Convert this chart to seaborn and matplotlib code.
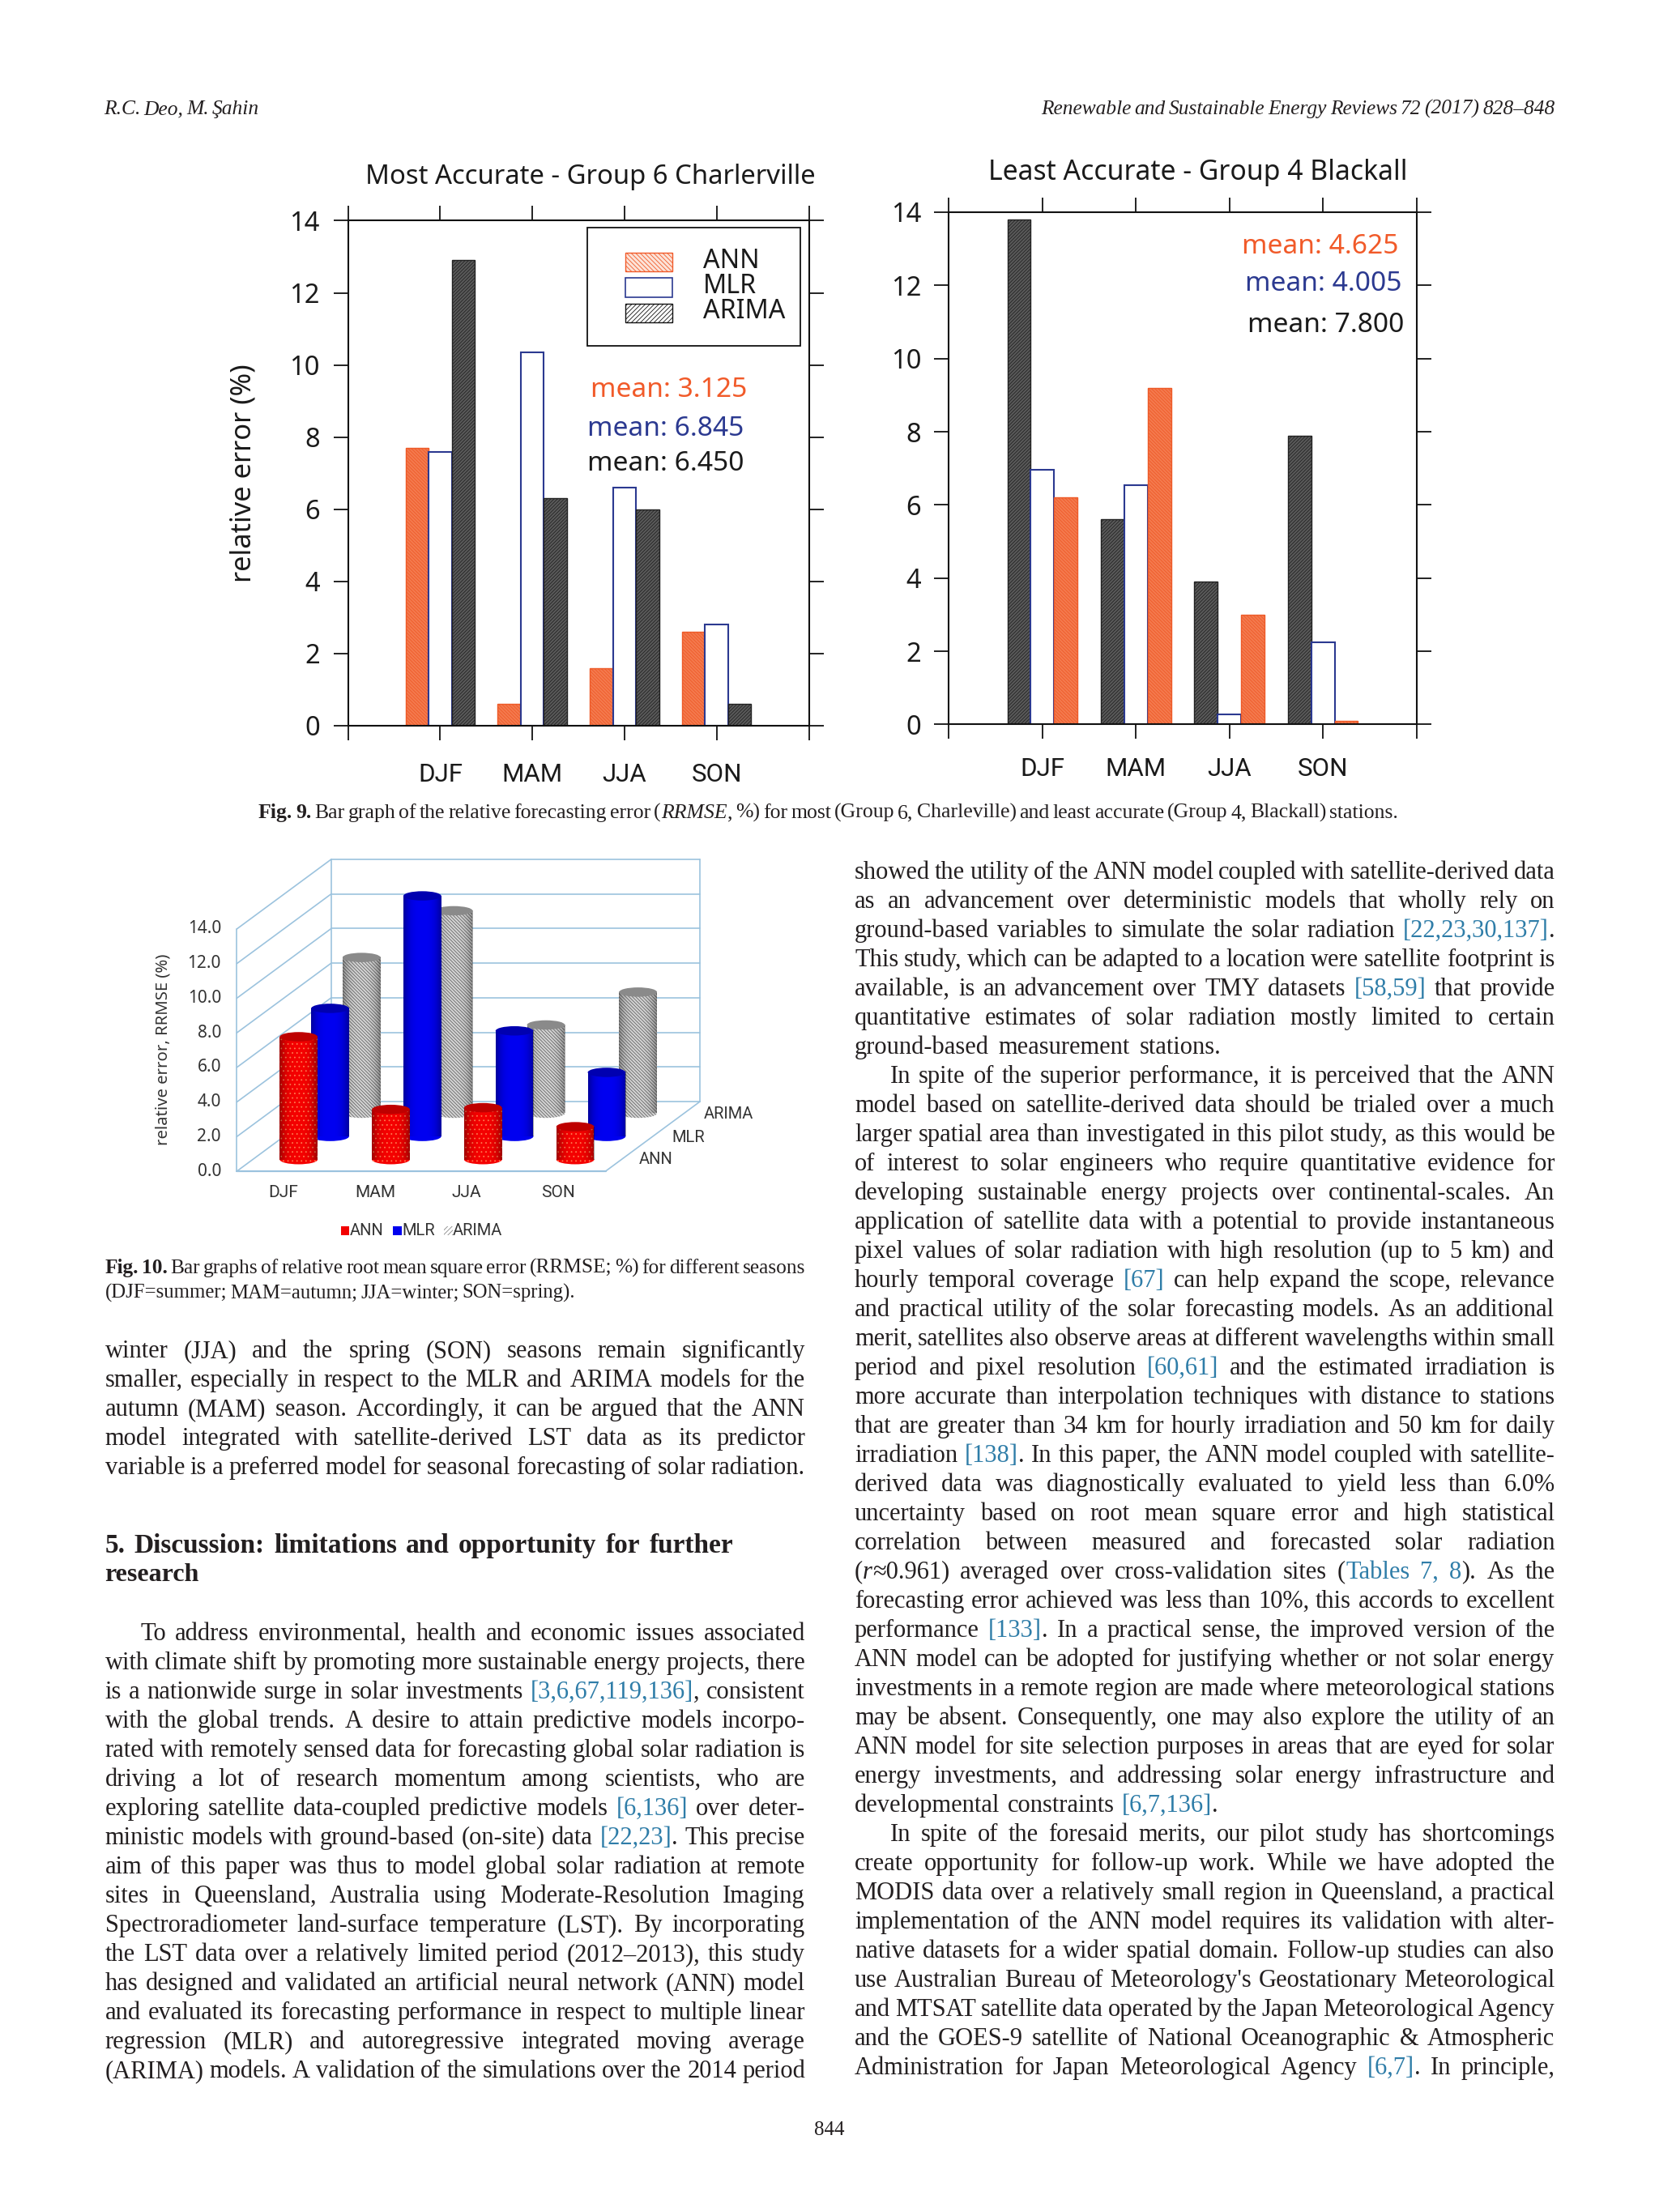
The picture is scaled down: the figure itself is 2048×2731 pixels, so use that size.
import re
import numpy as np
import matplotlib
matplotlib.use("Agg")
import matplotlib.pyplot as plt
from matplotlib.patches import Ellipse, Rectangle
from matplotlib.font_manager import FontProperties
import pandas as pd
import seaborn as sns

# ---------- data ----------
seasons = ["DJF", "MAM", "JJA", "SON"]
left_ann = [7.7, 0.6, 1.6, 2.6]
left_mlr = [7.6, 10.35, 6.6, 2.8]
left_arima = [12.9, 6.3, 6.0, 0.6]
right_arima = [13.8, 5.6, 3.9, 7.9]
right_mlr = [6.95, 6.55, 0.28, 2.25]
right_ann = [6.2, 9.2, 3.0, 0.1]
d3_ann = [7.1, 2.9, 3.0, 1.9]
d3_mlr = [7.4, 13.9, 6.1, 3.7]
d3_arima = [9.0, 11.7, 5.1, 7.0]
y_ticks = [0, 2, 4, 6, 8, 10, 12, 14]
left_means = ["mean: 3.125", "mean: 6.845", "mean: 6.450"]
right_means = ["mean: 4.625", "mean: 4.005", "mean: 7.800"]
models = ["ANN", "MLR", "ARIMA"]

left_col_a = [
    "winter (JJA) and the spring (SON) seasons remain significantly",
    "smaller, especially in respect to the MLR and ARIMA models for the",
    "autumn (MAM) season. Accordingly, it can be argued that the ANN",
    "model integrated with satellite-derived LST data as its predictor",
    "variable is a preferred model for seasonal forecasting of solar radiation.",
]
left_col_b = [
    "To address environmental, health and economic issues associated",
    "with climate shift by promoting more sustainable energy projects, there",
    "is a nationwide surge in solar investments {[3,6,67,119,136]}, consistent",
    "with the global trends. A desire to attain predictive models incorpo-",
    "rated with remotely sensed data for forecasting global solar radiation is",
    "driving a lot of research momentum among scientists, who are",
    "exploring satellite data-coupled predictive models {[6,136]} over deter-",
    "ministic models with ground-based (on-site) data {[22,23]}. This precise",
    "aim of this paper was thus to model global solar radiation at remote",
    "sites in Queensland, Australia using Moderate-Resolution Imaging",
    "Spectroradiometer land-surface temperature (LST). By incorporating",
    "the LST data over a relatively limited period (2012–2013), this study",
    "has designed and validated an artificial neural network (ANN) model",
    "and evaluated its forecasting performance in respect to multiple linear",
    "regression (MLR) and autoregressive integrated moving average",
    "(ARIMA) models. A validation of the simulations over the 2014 period",
]
right_col = [
    "showed the utility of the ANN model coupled with satellite-derived data",
    "as an advancement over deterministic models that wholly rely on",
    "ground-based variables to simulate the solar radiation {[22,23,30,137]}.",
    "This study, which can be adapted to a location were satellite footprint is",
    "available, is an advancement over TMY datasets {[58,59]} that provide",
    "quantitative estimates of solar radiation mostly limited to certain",
    "ground-based measurement stations.",
    "In spite of the superior performance, it is perceived that the ANN",
    "model based on satellite-derived data should be trialed over a much",
    "larger spatial area than investigated in this pilot study, as this would be",
    "of interest to solar engineers who require quantitative evidence for",
    "developing sustainable energy projects over continental-scales. An",
    "application of satellite data with a potential to provide instantaneous",
    "pixel values of solar radiation with high resolution (up to 5 km) and",
    "hourly temporal coverage {[67]} can help expand the scope, relevance",
    "and practical utility of the solar forecasting models. As an additional",
    "merit, satellites also observe areas at different wavelengths within small",
    "period and pixel resolution {[60,61]} and the estimated irradiation is",
    "more accurate than interpolation techniques with distance to stations",
    "that are greater than 34 km for hourly irradiation and 50 km for daily",
    "irradiation {[138]}. In this paper, the ANN model coupled with satellite-",
    "derived data was diagnostically evaluated to yield less than 6.0%",
    "uncertainty based on root mean square error and high statistical",
    "correlation between measured and forecasted solar radiation",
    "(*r*≈0.961) averaged over cross-validation sites ({Tables} {7,} {8}). As the",
    "forecasting error achieved was less than 10%, this accords to excellent",
    "performance {[133]}. In a practical sense, the improved version of the",
    "ANN model can be adopted for justifying whether or not solar energy",
    "investments in a remote region are made where meteorological stations",
    "may be absent. Consequently, one may also explore the utility of an",
    "ANN model for site selection purposes in areas that are eyed for solar",
    "energy investments, and addressing solar energy infrastructure and",
    "developmental constraints {[6,7,136]}.",
    "In spite of the foresaid merits, our pilot study has shortcomings",
    "create opportunity for follow-up work. While we have adopted the",
    "MODIS data over a relatively small region in Queensland, a practical",
    "implementation of the ANN model requires its validation with alter-",
    "native datasets for a wider spatial domain. Follow-up studies can also",
    "use Australian Bureau of Meteorology's Geostationary Meteorological",
    "and MTSAT satellite data operated by the Japan Meteorological Agency",
    "and the GOES-9 satellite of National Oceanographic & Atmospheric",
    "Administration for Japan Meteorological Agency {[6,7]}. In principle,",
]
caption9 = "^Fig.^ ^9.^ Bar graph of the relative forecasting error (*RRMSE*, %) for most (Group 6, Charleville) and least accurate (Group 4, Blackall) stations."
caption10 = [
    "^Fig.^ ^10.^ Bar graphs of relative root mean square error (RRMSE; %) for different seasons",
    "(DJF=summer; MAM=autumn; JJA=winter; SON=spring).",
]
heading = ["^5.^ ^Discussion:^ ^limitations^ ^and^ ^opportunity^ ^for^ ^further^", "^research^"]

# ---------- page ----------
W, H = 2048, 2731
sns.set_theme(style="ticks")
plt.rcParams["font.family"] = ["Noto Sans", "DejaVu Sans"]
plt.rcParams["hatch.linewidth"] = 0.6
INK = "#231F20"
LINK = "#2F7DA8"
ORANGE = "#F15A29"
BLUE = "#2B3990"

fig = plt.figure(figsize=(W / 100, H / 100), dpi=100, facecolor="white")
page = fig.add_axes([0, 0, 1, 1], zorder=0)
page.set_xlim(0, W)
page.set_ylim(H, 0)
page.axis("off")
renderer = fig.canvas.get_renderer()


def rect(x0, y0, x1, y1):
    return [x0 / W, 1 - y1 / H, (x1 - x0) / W, (y1 - y0) / H]


def segments(word):
    out = []
    for m in re.finditer(r"\{([^}]*)\}|\*([^*]*)\*|\^([^^]*)\^|([^{*^]+)", word):
        if m.group(1) is not None:
            out.append((m.group(1), "link"))
        elif m.group(2) is not None:
            out.append((m.group(2), "italic"))
        elif m.group(3) is not None:
            out.append((m.group(3), "bold"))
        else:
            out.append((m.group(4), "plain"))
    return out


def fp(kind, size, base):
    return FontProperties(
        family="Liberation Serif",
        size=size,
        style="italic" if kind == "italic" or base == "italic" else "normal",
        weight="bold" if kind == "bold" else "normal",
    )


def width(s, kind, size, base):
    return renderer.get_text_width_height_descent(s, fp(kind, size, base), False)[0]


def set_line(line, x0, x1, y, size=22.0, base="plain", color=INK):
    words = [segments(w) for w in line.split(" ")]
    while True:
        widths = [sum(width(s, k, size, base) for s, k in w) for w in words]
        gap = (x1 - x0 - sum(widths)) / max(len(words) - 1, 1)
        if gap >= size * 0.2 or size < 10:
            break
        size -= 0.1
    x = x0
    for w, ww in zip(words, widths):
        px = x
        for s, k in w:
            page.text(px, y, s, fontproperties=fp(k, size, base), va="baseline", ha="left",
                      color=LINK if k == "link" else color)
            px += width(s, k, size, base)
        x += ww + gap


LX0, LX1, RX0, RX1 = 129.5, 994.0, 1055.0, 1919.5
INDENT = 43.5
LEAD = 36.0

set_line("R.C. Deo, M. Şahin", 128, 320, 141, size=21, base="italic")
set_line("Renewable and Sustainable Energy Reviews 72 (2017) 828–848", 1285, 1919.5, 141, size=21.5, base="italic")
set_line(caption9, 319, 1726, 1010, size=18.5)
set_line(caption10[0], LX0, LX1, 1572, size=18.5)
set_line(caption10[1], LX0, 710, 1603, size=18.5)
for i, t in enumerate(left_col_a):
    set_line(t, LX0, LX1, 1676 + i * LEAD)
set_line(heading[0], LX0, 905, 1916.5, size=24)
set_line(heading[1], LX0, 251, 1951.5, size=24)
for i, t in enumerate(left_col_b):
    set_line(t, LX0 + (INDENT if i == 0 else 0), LX1, 2024.5 + i * 36.03)
short_ends = {6: 1507, 32: 1504}
indented = {7, 33}
for i, t in enumerate(right_col):
    set_line(t, RX0 + (INDENT if i in indented else 0), short_ends.get(i, RX1), 1084.6 + i * LEAD)
page.text(1005, 2636, "844", fontproperties=FontProperties(family="Liberation Serif", size=18), color=INK,
          va="baseline", ha="left")

# ---------- Fig. 9 ----------
STY = {
    "ANN": dict(facecolor="#F47A4E", edgecolor="#EE5A28", hatch="\\\\\\\\\\\\\\\\", linewidth=1.0),
    "MLR": dict(facecolor="white", edgecolor=BLUE, hatch=None, linewidth=1.5),
    "ARIMA": dict(facecolor="#5A5A5A", edgecolor="#222222", hatch="////////", linewidth=1.0),
}


def bar_panel(box, ann, mlr, arima, order, title, title_x, title_pad, title_size, tick_pad_x, tick_pad_y):
    ax = fig.add_axes(rect(*box), zorder=2)
    frame = pd.DataFrame({
        "season": seasons * 3,
        "model": ["ANN"] * 4 + ["MLR"] * 4 + ["ARIMA"] * 4,
        "value": list(ann) + list(mlr) + list(arima),
    })
    sns.barplot(data=frame, x="season", y="value", hue="model", hue_order=order, order=seasons,
                width=0.75, gap=0, dodge=True, legend=False, ax=ax, saturation=1,
                palette={"ANN": "#F47A4E", "MLR": "white", "ARIMA": "#555555"})
    for name, cont in zip(order, ax.containers):
        for p in cont:
            p.set(**STY[name])
    ax.set_xlim(-1, 4)
    ax.set_ylim(0, 14)
    ax.set_xticks(range(-1, 5))
    ax.set_xticklabels([""] + seasons + [""], fontfamily="Roboto")
    ax.set_yticks(y_ticks)
    ax.set_xlabel("")
    ax.set_ylabel("")
    ax.tick_params(axis="x", direction="out", top=True, bottom=True, length=13, width=1.3,
                   labelsize=22.5, pad=tick_pad_x, color="#111111", labelcolor="#1a1a1a")
    ax.tick_params(axis="y", direction="out", left=True, right=True, length=13, width=1.3,
                   labelsize=23.5, pad=tick_pad_y, color="#111111", labelcolor="#1a1a1a")
    for s in ax.spines.values():
        s.set_visible(True)
        s.set_linewidth(1.5)
        s.set_color("#111111")
    ax.set_title(title, x=title_x, y=1, pad=title_pad, fontsize=title_size, color="#1a1a1a", va="baseline", ha="center")
    return ax


lbox = (429.6, 272.5, 998.5, 896.0)
rbox = (1171.4, 262.0, 1748.5, 894.4)
axL = bar_panel(lbox, left_ann, left_mlr, left_arima, models, "Most Accurate - Group 6 Charlerville",
                (729 - 429.6) / 568.9, 32.4, 23.7, 20, 12)
axR = bar_panel(rbox, right_ann, right_mlr, right_arima, models[::-1], "Least Accurate - Group 4 Blackall",
                (1479 - 1171.4) / 577.1, 29, 24.3, 16.5, 11.5)
axL.set_ylabel("relative error (%)", fontsize=24.8, labelpad=29, color="#1a1a1a")

mean_colors = [ORANGE, BLUE, "#1a1a1a"]
over = fig.add_axes([0, 0, 1, 1], zorder=3)
over.set_xlim(0, W)
over.set_ylim(H, 0)
over.axis("off")
for txt, c, x, y in zip(left_means + right_means, mean_colors * 2,
                        [826, 822, 822, 1630, 1634, 1637],
                        [490, 537.7, 580.6, 313.3, 359, 409.5]):
    over.text(x, y, txt, color=c, fontsize=24.2, ha="center", va="baseline")
over.add_patch(Rectangle((725, 281.4), 263, 145.6, fc="white", ec="#111111", lw=1.3))
leg_sty = [
    dict(fc="#FCE3D8", ec=ORANGE, hatch="\\\\\\\\\\\\", lw=1.0),
    dict(fc="white", ec=BLUE, lw=1.2),
    dict(fc="white", ec="#111111", hatch="//////", lw=1.0),
]
for name, sty, y0, yc in zip(models, leg_sty, [311.7, 343, 374.5], [321.7, 352.5, 383.4]):
    over.add_patch(Rectangle((772.4, y0), 57.6, 23.5, **sty))
    over.text(868, yc + 1, name, fontsize=23.2, color="#1a1a1a", ha="left", va="center")

# ---------- Fig. 10 (pseudo-3D from stacked seaborn axes) ----------
FX0, FX1, FY0 = 292.4, 747.6, 1446.0
DX, DY = 116.4, -85.9
UNIT = (1443.6 - 1144.5) / 14
WALL = "#9CC3DE"
for v in y_ticks:
    yf = FY0 - v * UNIT
    page.plot([FX0, FX0 + DX], [yf, yf + DY], color=WALL, lw=1.2, zorder=1)
    page.plot([FX0 + DX, FX1 + DX], [yf + DY, yf + DY], color=WALL, lw=1.2, zorder=1)
    page.text(273, yf, f"{v:.1f}", fontsize=15, ha="right", va="center", color="#333333")
top = FY0 - 14 * UNIT
page.plot([FX0, FX0], [FY0, top], color=WALL, lw=1.2, zorder=1)
page.plot([FX0 + DX, FX0 + DX], [FY0 + DY, top + DY], color=WALL, lw=1.2, zorder=1)
page.plot([FX1 + DX, FX1 + DX], [FY0 + DY, top + DY], color=WALL, lw=1.2, zorder=1)
page.plot([FX0, FX1], [FY0, FY0], color=WALL, lw=1.6, zorder=1)
page.plot([FX1, FX1 + DX], [FY0, FY0 + DY], color=WALL, lw=1.2, zorder=1)

cyl = [
    ("ARIMA", d3_arima, 5 / 6, "#D4D4D4", "#666666", "\\\\\\\\\\\\\\\\", "#8A8A8A"),
    ("MLR", d3_mlr, 1 / 2, "#0000F0", "#0000F0", None, "#0000B0"),
    ("ANN", d3_ann, 1 / 6, "#F40000", "#FF7A50", "...", "#BE0000"),
]
shade = np.abs(np.linspace(-1, 1, 64)) ** 3
for z, (name, vals, frac, face, hatch_col, hatch, top_col) in enumerate(cyl):
    ox, oy = DX * frac, DY * frac
    ax = fig.add_axes(rect(FX0 + ox, FY0 + oy - 14 * UNIT, FX1 + ox, FY0 + oy), zorder=4 + z)
    frame = pd.DataFrame({"season": seasons, "value": vals})
    sns.barplot(data=frame, x="season", y="value", order=seasons, color=face, saturation=1,
                width=0.41, ax=ax, legend=False)
    eh = 0.54
    for i, p in enumerate(list(ax.patches[:4])):
        p.set_linewidth(0)
        if hatch:
            p.set_edgecolor(hatch_col)
            p.set_hatch(hatch)
        ax.add_patch(Ellipse((i, 0), 0.41, eh, fc=face, ec=hatch_col if hatch else "none", hatch=hatch, lw=0,
                             clip_on=False, zorder=1))
        rgba = np.zeros((1, 64, 4))
        rgba[..., 3] = shade * 0.35
        ax.imshow(rgba, extent=(i - 0.205, i + 0.205, 0, vals[i]), aspect="auto", zorder=2.5)
        ax.add_patch(Ellipse((i, vals[i]), 0.41, eh, fc=top_col, ec="none", clip_on=False, zorder=3))
    ax.set_xlim(-0.5, 3.5)
    ax.set_ylim(0, 14)
    ax.axis("off")
    ax.patch.set_visible(False)

page.text(201.6, 1296, "relative error, RRMSE (%)", fontsize=14.6, rotation=90, ha="center", va="center", color="#333333")
for name, x in zip(seasons, [349.6, 463, 576, 689.4]):
    page.text(x, 1472, name, fontsize=15, ha="center", va="center", color="#333333", family="Roboto")
for name, x, y in zip(models, [810, 849.6, 899], [1431, 1404, 1375]):
    page.text(x, y, name, fontsize=14.5, ha="center", va="center", color="#333333", family="Roboto")
leg3 = [("#F20000", None, 420.5, 431.7), ("#0000EE", None, 485, 496.5), ("white", "//////", 548, 558.8)]
for name, (c, h, sx, tx) in zip(models, leg3):
    page.add_patch(Rectangle((sx, 1514), 10.5, 10.5, fc=c, ec="#888888" if h else c, hatch=h, lw=0))
    page.text(tx, 1519, name, fontsize=14.5, ha="left", va="center", color="#333333", family="Roboto")

fig.savefig("out.png", dpi=100, facecolor="white")
